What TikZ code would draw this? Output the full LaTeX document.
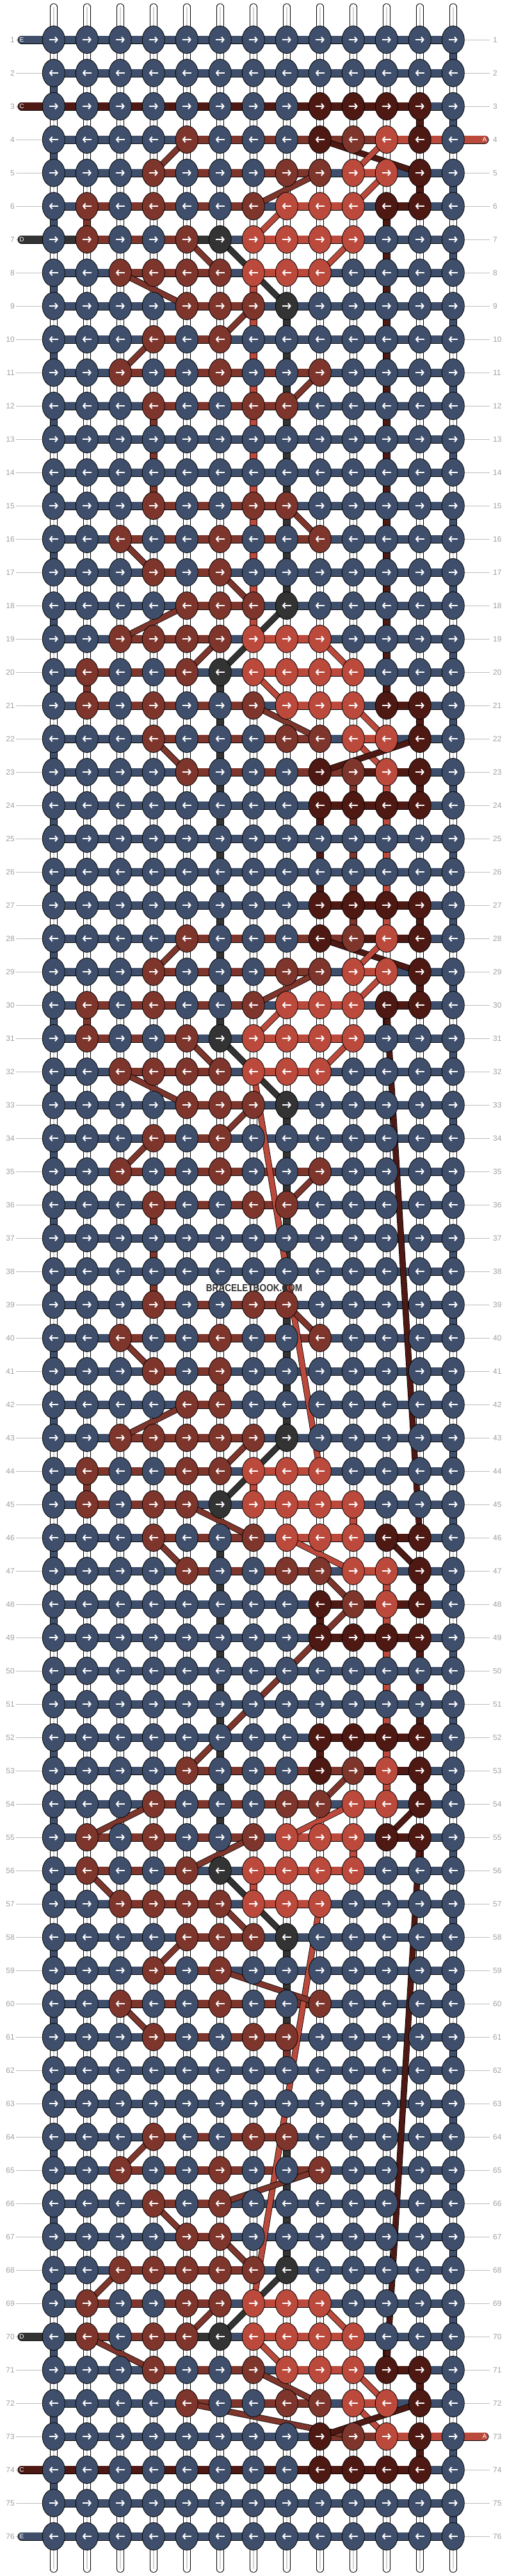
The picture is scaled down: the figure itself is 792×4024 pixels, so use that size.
\documentclass[tikz,border=0pt]{standalone}
\usepackage{fontspec}
\setmainfont{Liberation Sans}
\usetikzlibrary{arrows.meta,shapes.geometric}

\pgfdeclarelayer{strings}
\pgfdeclarelayer{bars}
\pgfdeclarelayer{lines}
\pgfsetlayers{strings,bars,lines,main}

\definecolor{cE}{HTML}{3F4F6B}
\definecolor{cA}{HTML}{BC4A3C}
\definecolor{cB}{HTML}{7E352C}
\definecolor{cC}{HTML}{4E1813}
\definecolor{cD}{HTML}{333333}
\definecolor{rownum}{HTML}{A0A0A0}

\tikzset{
  knot/.style={shape=ellipse, draw=black, line width=.8pt, minimum width=35pt, minimum height=43pt, inner sep=0pt},
  knarrow/.style={white, line width=2pt, -{Straight Barb[length=3.5pt,width=8.5pt]}},
  hbar/.style={draw=black, line width=.8pt, double=#1, double distance=11.4pt},
  vbar/.style={draw=black, line width=.8pt, double=#1, double distance=9.6pt},
  strand/.style={draw=black, line width=.8pt, double=#1, double distance=8pt},
  warp/.style={draw=black, line width=.8pt, double=white, double distance=9.8pt, line cap=round},
  guide/.style={draw=rownum!70, line width=.8pt},
  numlabel/.style={text=rownum, font=\fontsize{12}{12}\selectfont, inner sep=0pt},
  tag/.style={text=white, font=\fontsize{10}{10}\selectfont, inner sep=0pt}
}

% one row: knot colours, then colours of the 12 bars between them
\newcommand\knotrow[3]{%
  \def\rowno{#1}\def\colno{0}\knotscan#2\relax
  \begin{pgfonlayer}{bars}\def\colno{0}\segscan#3\relax\end{pgfonlayer}}
\def\knotscan#1{\ifx#1\relax\else
  \pgfmathtruncatemacro\colno{\colno+1}%
  \node[knot, fill=c#1] (k-\rowno-\colno) at ({31.8+52*\colno},{10+52*\rowno}) {};
  \ifodd\rowno
    \draw[knarrow] ([xshift=-7pt]k-\rowno-\colno.center) -- ([xshift=7pt]k-\rowno-\colno.center);
  \else
    \draw[knarrow] ([xshift=7pt]k-\rowno-\colno.center) -- ([xshift=-7pt]k-\rowno-\colno.center);
  \fi
  \expandafter\knotscan\fi}
\def\segscan#1{\ifx#1\relax\else
  \pgfmathtruncatemacro\colno{\colno+1}%
  \pgfmathtruncatemacro\nextno{\colno+1}%
  \draw[hbar=c#1] (k-\rowno-\colno.center) -- (k-\rowno-\nextno.center);
  \expandafter\segscan\fi}
% coloured links below a row (. = plain warp)
\newcommand\vrow[2]{%
  \def\rowno{#1}\pgfmathtruncatemacro\nextrow{#1+1}\def\colno{0}%
  \begin{pgfonlayer}{bars}\vscan#2\relax\end{pgfonlayer}}
\def\vscan#1{\ifx#1\relax\else
  \pgfmathtruncatemacro\colno{\colno+1}%
  \ifx#1.\else\draw[vbar=c#1] (k-\rowno-\colno.center) -- (k-\nextrow-\colno.center);\fi
  \expandafter\vscan\fi}

\begin{document}
\begin{tikzpicture}[x=1pt, y=-1pt]
\useasboundingbox (0,0) rectangle (792,4024);
\begin{pgfonlayer}{strings}
\fill[white] (0,0) rectangle (792,4024);
\end{pgfonlayer}

% knots
\knotrow{1}{EEEEEEEEEEEEE}{EEEEEEEEEEEE}
\knotrow{2}{EEEEEEEEEEEEE}{EEEEEEEEEEEE}
\knotrow{3}{EEEEEEEECCCCE}{CCCCCCCCCCCE}
\knotrow{4}{EEEEBEEECBACE}{EEEEBBBBBBAA}
\knotrow{5}{EEEBEEEBBAACE}{EEEBBBBBEAEE}
\knotrow{6}{EBEBEEBAAACCE}{EBBBBBEAAECE}
\knotrow{7}{EBEEBDAAAAEEE}{DBBBDEAAAEEE}
\knotrow{8}{EEBBBBAAAEEEE}{EEBBBEAAEEEE}
\knotrow{9}{EEEEBBBDEEEEE}{EEEEBBEEEEEE}
\knotrow{10}{EEEBEBEEEEEEE}{EEEBBEEEEEEE}
\knotrow{11}{EEBEEBEEBEEEE}{EEBBBBBBEEEE}
\knotrow{12}{EEEBEEBBEEEEE}{EEEBBBBEEEEE}
\knotrow{13}{EEEEEEEEEEEEE}{EEEEEEEEEEEE}
\knotrow{14}{EEEEEEEEEEEEE}{EEEEEEEEEEEE}
\knotrow{15}{EEEBEEBBEEEEE}{EEEBBBBEEEEE}
\knotrow{16}{EEBEEBEEBEEEE}{EEBBBBBBEEEE}
\knotrow{17}{EEEBEBEEEEEEE}{EEEBBEEEEEEE}
\knotrow{18}{EEEEBBBDEEEEE}{EEEEBBEEEEEE}
\knotrow{19}{EEBBBBAAAEEEE}{EEBBBEAAEEEE}
\knotrow{20}{EBEEBDAAAAEEE}{EBBBEEAAAEEE}
\knotrow{21}{EBEBEEBAAACCE}{EBBBBBEAAECE}
\knotrow{22}{EEEBEEEBBAACE}{EEEBBBBBEAEE}
\knotrow{23}{EEEEBEEECBACE}{EEEEBBBBBCCE}
\knotrow{24}{EEEEEEEECCCCE}{EEEEEEEECCCE}
\knotrow{25}{EEEEEEEEEEEEE}{EEEEEEEEEEEE}
\knotrow{26}{EEEEEEEEEEEEE}{EEEEEEEEEEEE}
\knotrow{27}{EEEEEEEECCCCE}{EEEEEEEECCCE}
\knotrow{28}{EEEEBEEECBACE}{EEEEBBBBBCCE}
\knotrow{29}{EEEBEEEBBAACE}{EEEBBBBBEAEE}
\knotrow{30}{EBEBEEBAAACCE}{EBBBBBEAAECE}
\knotrow{31}{EBEEBDAAAAEEE}{EBBBEEAAAEEE}
\knotrow{32}{EEBBBBAAAEEEE}{EEBBBEAAEEEE}
\knotrow{33}{EEEEBBBDEEEEE}{EEEEBBEEEEEE}
\knotrow{34}{EEEBEBEEEEEEE}{EEEBBEEEEEEE}
\knotrow{35}{EEBEEBEEBEEEE}{EEBBBBBBEEEE}
\knotrow{36}{EEEBEEBBEEEEE}{EEEBBBBEEEEE}
\knotrow{37}{EEEEEEEEEEEEE}{EEEEEEEEEEEE}
\knotrow{38}{EEEEEEEEEEEEE}{EEEEEEEEEEEE}
\knotrow{39}{EEEBEEBBEEEEE}{EEEBBBBEEEEE}
\knotrow{40}{EEBEEBEEBEEEE}{EEBBBBBBEEEE}
\knotrow{41}{EEEBEBEEEEEEE}{EEEBBEEEEEEE}
\knotrow{42}{EEEEBBEEEEEEE}{EEEEBEEEEEEE}
\knotrow{43}{EEBBBBBDEEEEE}{EEBBBBEEEEEE}
\knotrow{44}{EBEEBBAAAEEEE}{EBBBBEAAEEEE}
\knotrow{45}{EBEBBDAAAAEEE}{EBBBEEAAAEEE}
\knotrow{46}{EEEBEEBAAACCE}{EEEBBBEAAECE}
\knotrow{47}{EEEEBEEBBAACE}{EEEEBBBBEAEE}
\knotrow{48}{EEEEEEEECBACE}{EEEEEEEECCCE}
\knotrow{49}{EEEEEEEECCCCE}{EEEEEEEECCCE}
\knotrow{50}{EEEEEEEEEEEEE}{EEEEEEEEEEEE}
\knotrow{51}{EEEEEEEEEEEEE}{EEEEEEEEEEEE}
\knotrow{52}{EEEEEEEECCCCE}{EEEEEEEECCCE}
\knotrow{53}{EEEEBEEECBACE}{EEEEBBBBBCCE}
\knotrow{54}{EEEBEEEBBAACE}{EEEBBBBBEAEE}
\knotrow{55}{EBEBEEBAAACCE}{EBBBBBEAAECE}
\knotrow{56}{EBEEBDAAAAEEE}{EBBBEEAAAEEE}
\knotrow{57}{EEBBBBAAAEEEE}{EEBBBEAAEEEE}
\knotrow{58}{EEEEBBBDEEEEE}{EEEEBBEEEEEE}
\knotrow{59}{EEEBEBEEEEEEE}{EEEBBEEEEEEE}
\knotrow{60}{EEBEEBEEBEEEE}{EEBBBBBBEEEE}
\knotrow{61}{EEEBEEBBEEEEE}{EEEBBBBEEEEE}
\knotrow{62}{EEEEEEEEEEEEE}{EEEEEEEEEEEE}
\knotrow{63}{EEEEEEEEEEEEE}{EEEEEEEEEEEE}
\knotrow{64}{EEEBEEBBEEEEE}{EEEBBBBEEEEE}
\knotrow{65}{EEBEEBEEBEEEE}{EEBBBBBBEEEE}
\knotrow{66}{EEEBEBEEEEEEE}{EEEBBEEEEEEE}
\knotrow{67}{EEEEBBEEEEEEE}{EEEEBEEEEEEE}
\knotrow{68}{EEBBBBBDEEEEE}{EEBBBBEEEEEE}
\knotrow{69}{EBEEBBAAAEEEE}{EBBBBEAAEEEE}
\knotrow{70}{EBEBBDAAAAEEE}{DBBBDEAAAEEE}
\knotrow{71}{EEEBEEBAAACCE}{EEEBBBEAAECE}
\knotrow{72}{EEEEBEEBBAACE}{EEEEBBBBEAEE}
\knotrow{73}{EEEEEEEECBACE}{EEEEEEEEBBAA}
\knotrow{74}{EEEEEEEECCCCE}{CCCCCCCCCCCE}
\knotrow{75}{EEEEEEEEEEEEE}{EEEEEEEEEEEE}
\knotrow{76}{EEEEEEEEEEEEE}{EEEEEEEEEEEE}

% links between rows
\vrow{1}{............E}
\vrow{2}{E............}
\vrow{3}{...........CE}
\vrow{4}{E............}
\vrow{5}{...........CE}
\vrow{6}{EB........C..}
\vrow{7}{..........C.E}
\vrow{8}{E.....A...C..}
\vrow{9}{......AD..C.E}
\vrow{10}{E.....AD..C..}
\vrow{11}{......AD..C.E}
\vrow{12}{E..B..AD..C..}
\vrow{13}{...B..AD..C.E}
\vrow{14}{E..B..AD..C..}
\vrow{15}{......AD..C.E}
\vrow{16}{E.....AD..C..}
\vrow{17}{......AD..C.E}
\vrow{18}{E.....A...C..}
\vrow{19}{..........C.E}
\vrow{20}{EB...D....C..}
\vrow{21}{.....D.....CE}
\vrow{22}{E....D.......}
\vrow{23}{.....D...BACE}
\vrow{24}{E....D..CBA..}
\vrow{25}{.....D..CBA.E}
\vrow{26}{E....D..CBA..}
\vrow{27}{.....D...BACE}
\vrow{28}{E....D.......}
\vrow{29}{.....D.....CE}
\vrow{30}{EB...D....C..}
\vrow{31}{............E}
\vrow{32}{E............}
\vrow{33}{.......D....E}
\vrow{34}{E......D.....}
\vrow{35}{.......D....E}
\vrow{36}{E..B...D.....}
\vrow{37}{...B...D....E}
\vrow{38}{E..B...D.....}
\vrow{39}{.......D....E}
\vrow{40}{E......D.....}
\vrow{41}{.....B.D....E}
\vrow{42}{E......D.....}
\vrow{43}{............E}
\vrow{44}{EB....A......}
\vrow{45}{.........A..E}
\vrow{46}{E....D.......}
\vrow{47}{.....D....ACE}
\vrow{48}{E....D..C.A..}
\vrow{49}{.....D....ACE}
\vrow{50}{E....D....AC.}
\vrow{51}{.....D....ACE}
\vrow{52}{E....D..C.A..}
\vrow{53}{.....D....ACE}
\vrow{54}{E....D.......}
\vrow{55}{.........A.CE}
\vrow{56}{E.....A......}
\vrow{57}{............E}
\vrow{58}{E......D.....}
\vrow{59}{.......D....E}
\vrow{60}{E......D.....}
\vrow{61}{.......B....E}
\vrow{62}{E............}
\vrow{63}{............E}
\vrow{64}{E......D.....}
\vrow{65}{.......D....E}
\vrow{66}{E......D.....}
\vrow{67}{.......D....E}
\vrow{68}{E............}
\vrow{69}{............E}
\vrow{70}{E.........C..}
\vrow{71}{...........CE}
\vrow{72}{E............}
\vrow{73}{...........CE}
\vrow{74}{E............}
\vrow{75}{............E}

% strands that skip across
\begin{pgfonlayer}{lines}
\foreach \cl/\ra/\ca/\rb/\cb in {B/4/5/5/4, C/4/9/5/12, A/4/11/5/10, B/5/9/6/7, A/5/11/6/10,
  A/6/8/7/7, B/7/5/8/6, D/7/6/9/8, A/7/10/8/9, B/8/3/9/5, B/9/7/10/6, B/10/4/11/3,
  B/11/9/12/8, B/15/8/16/9, B/16/3/17/4, B/17/6/18/7, B/18/5/19/3, D/18/8/20/6,
  B/19/6/20/5, A/19/9/20/10, A/20/7/21/8, B/21/7/22/9, A/21/10/22/11, B/22/4/23/5,
  A/22/10/23/11, C/22/12/23/9, B/28/5/29/4, C/28/9/29/12, A/28/11/29/10, B/29/9/30/7,
  A/29/11/30/10, A/30/8/31/7, B/31/5/32/6, D/31/6/33/8, A/31/10/32/9, B/32/3/33/5,
  B/33/7/34/6, B/34/4/35/3, B/35/9/36/8, A/32/7/44/9, C/30/11/46/12, B/39/8/40/9,
  B/40/3/41/4, B/42/5/43/3, B/43/7/44/6, D/43/8/45/6, B/45/5/46/7, B/46/4/47/5,
  A/46/8/47/10, C/46/11/47/12, B/47/9/48/10, B/48/10/53/5, B/53/10/54/9, B/54/4/55/2,
  A/54/10/55/8, C/54/12/55/11, B/55/7/56/5, B/56/2/57/3, D/56/6/58/8, B/57/6/58/7,
  A/57/9/69/7, B/58/5/59/4, B/59/6/60/9, B/60/3/61/4, C/55/12/71/11, B/64/4/65/3,
  B/65/9/66/6, B/66/4/67/5, B/67/6/68/7, B/68/3/69/2, D/68/8/70/6, B/69/6/70/5,
  A/69/9/70/10, B/70/2/71/4, A/70/7/71/8, B/71/7/72/9, A/71/10/72/11, B/72/5/73/10,
  A/72/10/73/11, C/72/12/73/9}
  \draw[strand=c\cl] (k-\ra-\ca.center) -- (k-\rb-\cb.center);
\end{pgfonlayer}

% warp strings, guides and row numbers
\begin{pgfonlayer}{strings}
\foreach \c in {1,...,13}{
  \draw[warp] ([yshift=51pt]k-1-\c.center) -- ([yshift=-51pt]k-76-\c.center);
  \draw[gray!35, line width=2.4pt] ([yshift=51pt]k-1-\c.center) -- ([yshift=-51pt]k-76-\c.center);
}
\foreach \r in {1,...,76}{
  \coordinate (guideL-\r) at (25,{10+52*\r});
  \coordinate (guideR-\r) at (765,{10+52*\r});
  \draw[guide] (guideL-\r) -- (k-\r-1.center);
  \draw[guide] (k-\r-13.center) -- (guideR-\r);
  \node[numlabel, anchor=east] (numL-\r) at (23,{10+52*\r}) {\r};
  \node[numlabel, anchor=west] (numR-\r) at (770,{10+52*\r}) {\r};
}
\end{pgfonlayer}

% loose string ends with their letters
\begin{pgfonlayer}{bars}
\foreach \r/\cl in {1/E, 3/C, 7/D, 70/D, 74/C, 76/E}{
  \coordinate (endL-\r) at (34,{10+52*\r});
  \draw[hbar=c\cl, line cap=round] (endL-\r) -- (k-\r-1.center);
}
\foreach \r in {4, 73}{
  \coordinate (endR-\r) at (757,{10+52*\r});
  \draw[hbar=cA, line cap=round] (k-\r-13.center) -- (endR-\r);
}
\end{pgfonlayer}
\foreach \r/\cl in {1/E, 3/C, 7/D, 70/D, 74/C, 76/E}
  \node[tag] (tagL-\r) at (endL-\r) {\cl};
\foreach \r in {4, 73}
  \node[tag] (tagR-\r) at (endR-\r) {A};

\node[text=cD, font=\bfseries\fontsize{16}{16}\selectfont] (mark) at (397,2012) {\scalebox{.85}[1]{BRACELETBOOK.COM}};
\end{tikzpicture}
\end{document}
